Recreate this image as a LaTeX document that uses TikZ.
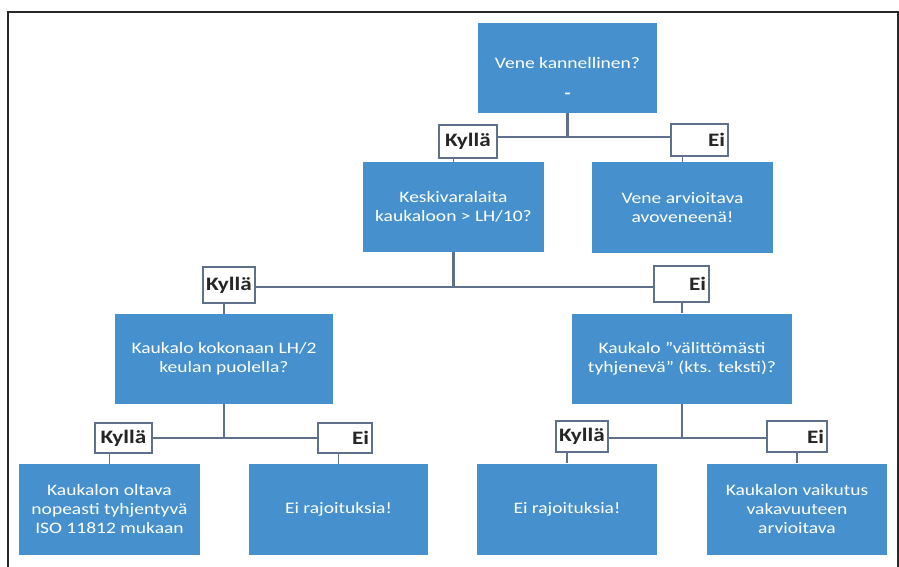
\documentclass[tikz,border=0pt]{standalone}
\usepackage{fontspec}
\setmainfont{Carlito}[FakeStretch=1.22]
\definecolor{boxblue}{RGB}{70,145,205}
\definecolor{linecol}{RGB}{95,112,138}
\definecolor{framecol}{RGB}{40,40,40}
\begin{document}
\begin{tikzpicture}[x=1bp,y=-1bp,
  bluebox/.style={fill=boxblue,text=white,inner sep=2bp,align=center,
    font=\fontsize{16bp}{19bp}\selectfont,minimum height=90bp},
  yesbox/.style={draw=linecol,line width=1.8bp,fill=white,inner sep=1bp,
    font=\bfseries\fontsize{19bp}{20bp}\selectfont,text=black!85},
  conn/.style={draw=linecol,line width=2.4bp}]
\useasboundingbox (0,0) rectangle (899,567);
\draw[framecol,line width=2.5bp] (8,567) -- (8,12) -- (898,12) -- (898,567);
% boxes
\node[bluebox,minimum width=179bp] (top) at (567.5,68) {};
\node[text=white,font=\fontsize{16bp}{19bp}\selectfont] (toptxt) at (567.5,63) {Vene kannellinen?};
\node[text=white,font=\bfseries\fontsize{16bp}{19bp}\selectfont] (topdash) at (567.5,96) {-};
\node[bluebox,minimum width=181bp] (kesk) at (453.5,207) {Keskivaralaita\\kaukaloon > LH/10?};
\node[bluebox,minimum width=181bp] (vene) at (682.5,207.5) {Vene arvioitava\\avoveneenä!};
\node[bluebox,minimum width=218bp] (kauk1) at (224,359) {Kaukalo kokonaan LH/2\\keulan puolella?};
\node[bluebox,minimum width=220bp] (kauk2) at (682,358.5) {Kaukalo  ”välittömästi\\tyhjenevä” (kts. teksti)?};
\node[bluebox,minimum width=181bp,minimum height=91bp] (b1) at (109.5,509.5) {Kaukalon oltava\\nopeasti tyhjentyvä\\ISO 11812 mukaan};
\node[bluebox,minimum width=179bp,minimum height=91bp] (b2) at (338.5,509.5) {Ei rajoituksia!};
\node[bluebox,minimum width=180bp,minimum height=91bp] (b3) at (567,509) {Ei rajoituksia!};
\node[bluebox,minimum width=180bp,minimum height=91bp] (b4) at (797,509) {Kaukalon vaikutus\\vakavuuteen\\arvioitava};
% labels
\node[yesbox,minimum width=58bp,minimum height=33bp] (k1) at (468,141.5) {Kyllä};
\node[yesbox,minimum width=57bp,minimum height=32bp,text width=51bp,align=right] (e1) at (699.5,140) {Ei};
\node[yesbox,minimum width=52bp,minimum height=36bp] (k2) at (229,285) {Kyllä};
\node[yesbox,minimum width=55bp,minimum height=36bp,text width=49bp,align=right] (e2) at (681.5,284) {Ei};
\node[yesbox,minimum width=57bp,minimum height=30bp] (k3) at (123.5,438) {Kyllä};
\node[yesbox,minimum width=54bp,minimum height=30bp,text width=48bp,align=right] (e3) at (345,438) {Ei};
\node[yesbox,minimum width=52bp,minimum height=31bp] (k4) at (582,436.5) {Kyllä};
\node[yesbox,minimum width=60bp,minimum height=31bp,text width=54bp,align=right] (e4) at (797,436.5) {Ei};
% hubs
\coordinate (h1) at (567.5,137);
\coordinate (h2) at (453.5,287);
\coordinate (h3) at (224,438);
\coordinate (h4) at (682,438);
% connectors
\path[conn] (top.south) -- (h1);
\path[conn] (k1.east |- h1) -- (e1.west |- h1);
\path[conn] (kesk.south) -- (h2);
\path[conn] (k2.east |- h2) -- (e2.west |- h2);
\path[conn] (kauk1.south) -- (h3);
\path[conn] (k3.east |- h3) -- (e3.west |- h3);
\path[conn] (kauk2.south) -- (h4);
\path[conn] (k4.east |- h4) -- (e4.west |- h4);
% ticks
\path[conn,line width=1.5bp] (k1.south -| kesk.north) -- (kesk.north);
\path[conn,line width=1.5bp] (e1.south -| vene.north) -- (vene.north);
\path[conn,line width=1.5bp] (k2.south -| kauk1.north) -- (kauk1.north);
\path[conn,line width=1.5bp] (e2.south -| kauk2.north) -- (kauk2.north);
\path[conn,line width=1.5bp] (k3.south -| b1.north) -- (b1.north);
\path[conn,line width=1.5bp] (e3.south -| b2.north) -- (b2.north);
\path[conn,line width=1.5bp] (k4.south -| b3.north) -- (b3.north);
\path[conn,line width=1.5bp] (e4.south -| b4.north) -- (b4.north);
\end{tikzpicture}
\end{document}
